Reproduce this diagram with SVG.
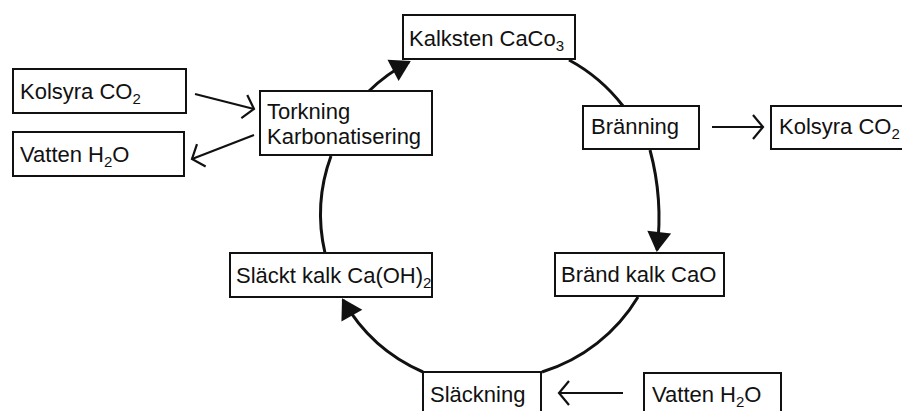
<svg xmlns="http://www.w3.org/2000/svg" width="902" height="411" viewBox="0 0 902 411">
<style>
.box{fill:#fff;stroke:#111;stroke-width:2}
.t{font-family:"Liberation Sans",Arial,sans-serif;font-size:22px;fill:#111}
.sub{font-size:15px}
.cyc{fill:none;stroke:#111;stroke-width:3}
.thin{fill:none;stroke:#111;stroke-width:2.2}
</style>
<defs>
<marker id="fa" markerUnits="userSpaceOnUse" viewBox="-22 -14 26 28" markerWidth="26" markerHeight="28" refX="0" refY="0" orient="auto" overflow="visible">
<path d="M2,0 L-18,-12 L-18,12 Z" fill="#111"/>
</marker>
<marker id="oa" markerUnits="userSpaceOnUse" viewBox="-14 -14 16 28" markerWidth="16" markerHeight="28" refX="0" refY="0" orient="auto" overflow="visible">
<path d="M-10,-12 L0,0 L-10,12" fill="none" stroke="#111" stroke-width="2.2" stroke-linejoin="miter"/>
</marker>
</defs>
<rect width="902" height="411" fill="#fff"/>
<g id="connectors">
<path class="cyc" d="M369,91 A170,170 0 0 1 409,62" marker-end="url(#fa)"/>
<path class="cyc" d="M569,60 A170,170 0 0 1 623,106"/>
<path class="cyc" d="M650,150 A260,260 0 0 1 657,250" marker-end="url(#fa)"/>
<path class="cyc" d="M638,297 A170,170 0 0 1 542,372"/>
<path class="cyc" d="M423,372 A170,170 0 0 1 343,300" marker-end="url(#fa)"/>
<path class="cyc" d="M325,253 A170,170 0 0 1 331,156"/>
<path class="thin" d="M195,94 L254,109" marker-end="url(#oa)"/>
<path class="thin" d="M254,135 L192,159" marker-end="url(#oa)"/>
<path class="thin" d="M712,127 L763,127" marker-end="url(#oa)"/>
<path class="thin" d="M623,393 L559,393" marker-end="url(#oa)"/>
</g>
<g id="kalksten">
<rect class="box" x="403" y="15" width="172" height="44"/>
<text class="t" x="409" y="46">Kalksten CaCo<tspan class="sub" dy="5">3</tspan></text>
</g>
<g id="kolsyra-left">
<rect class="box" x="13" y="69" width="173" height="44"/>
<text class="t" x="20" y="99">Kolsyra CO<tspan class="sub" dy="5">2</tspan></text>
</g>
<g id="vatten-left">
<rect class="box" x="13" y="132" width="171" height="44"/>
<text class="t" x="20" y="162">Vatten H<tspan class="sub" dy="5">2</tspan><tspan dy="-5">O</tspan></text>
</g>
<g id="torkning">
<rect class="box" x="260" y="91" width="172" height="64"/>
<text class="t" x="267" y="119">Torkning</text>
<text class="t" x="267" y="144">Karbonatisering</text>
</g>
<g id="branning">
<rect class="box" x="583" y="106" width="116" height="43"/>
<text class="t" x="591" y="134">Bränning</text>
</g>
<g id="kolsyra-right">
<rect class="box" x="771" y="106" width="140" height="43"/>
<text class="t" x="779" y="134">Kolsyra  CO<tspan class="sub" dy="5">2</tspan></text>
</g>
<g id="brand-kalk">
<rect class="box" x="555" y="253" width="169" height="43"/>
<text class="t" x="561" y="282">Bränd kalk CaO</text>
</g>
<g id="slackt-kalk">
<rect class="box" x="230" y="253" width="202" height="44"/>
<text class="t" x="236" y="283">Släckt kalk Ca(OH)<tspan class="sub" dy="5">2</tspan></text>
</g>
<g id="slackning">
<rect class="box" x="423" y="372" width="118" height="50"/>
<text class="t" x="430" y="402">Släckning</text>
</g>
<g id="vatten-bottom">
<rect class="box" x="644" y="373" width="137" height="50"/>
<text class="t" x="652" y="402">Vatten H<tspan class="sub" dy="5">2</tspan><tspan dy="-5">O</tspan></text>
</g>
</svg>
